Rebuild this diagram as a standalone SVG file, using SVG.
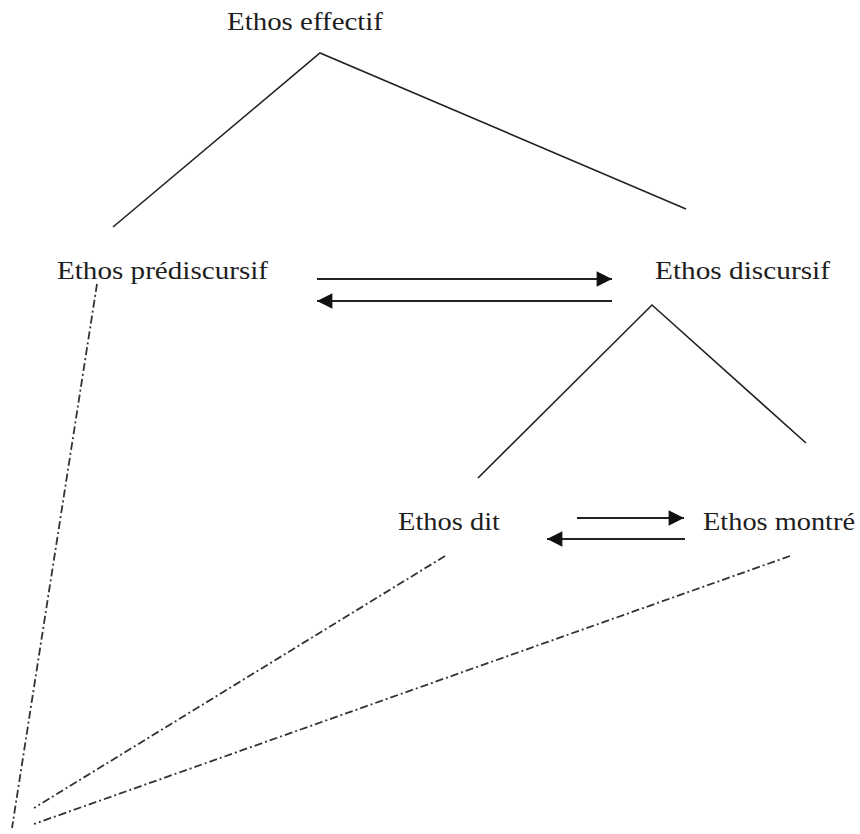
<svg xmlns="http://www.w3.org/2000/svg" width="860" height="834" viewBox="0 0 860 834">
<style>
.t{font-family:"Liberation Serif","Times New Roman",serif;font-size:26px;fill:#1e1e1e}
.l{stroke:#222;stroke-width:1.6;fill:none}
.a{stroke:#222;stroke-width:2.2;fill:none;marker-end:url(#ah)}
.d{stroke:#333;stroke-width:1.8;fill:none;stroke-dasharray:8 3 2 3}
</style>
<defs>
<marker id="ah" viewBox="0 0 10 10" refX="10" refY="5" markerWidth="7.5" markerHeight="7" orient="auto" markerUnits="strokeWidth">
<path d="M0,0 L10,5 L0,10 z" fill="#111"/>
</marker>
</defs>
<rect width="860" height="834" fill="#fff"/>
<g id="connectors">
<path class="l" d="M113,227 L320,53 L686,209"/>
<path class="l" d="M478,478 L652,305 L806,443"/>
<line class="a" x1="317" y1="279" x2="612" y2="279"/>
<line class="a" x1="612" y1="301" x2="317" y2="301"/>
<line class="a" x1="577" y1="518" x2="684" y2="518"/>
<line class="a" x1="685" y1="539" x2="547" y2="539"/>
<line class="d" x1="97" y1="284" x2="12" y2="828"/>
<line class="d" x1="445" y1="556" x2="34" y2="808"/>
<line class="d" x1="790" y1="556" x2="34" y2="824"/>
</g>
<g id="ethos-effectif"><text class="t" x="227" y="30" textLength="156" lengthAdjust="spacingAndGlyphs">Ethos effectif</text></g>
<g id="ethos-prediscursif"><text class="t" x="57" y="279" textLength="211" lengthAdjust="spacingAndGlyphs">Ethos prédiscursif</text></g>
<g id="ethos-discursif"><text class="t" x="655" y="279" textLength="175" lengthAdjust="spacingAndGlyphs">Ethos discursif</text></g>
<g id="ethos-dit"><text class="t" x="398" y="530" textLength="102" lengthAdjust="spacingAndGlyphs">Ethos dit</text></g>
<g id="ethos-montre"><text class="t" x="703" y="530" textLength="152" lengthAdjust="spacingAndGlyphs">Ethos montré</text></g>
</svg>
